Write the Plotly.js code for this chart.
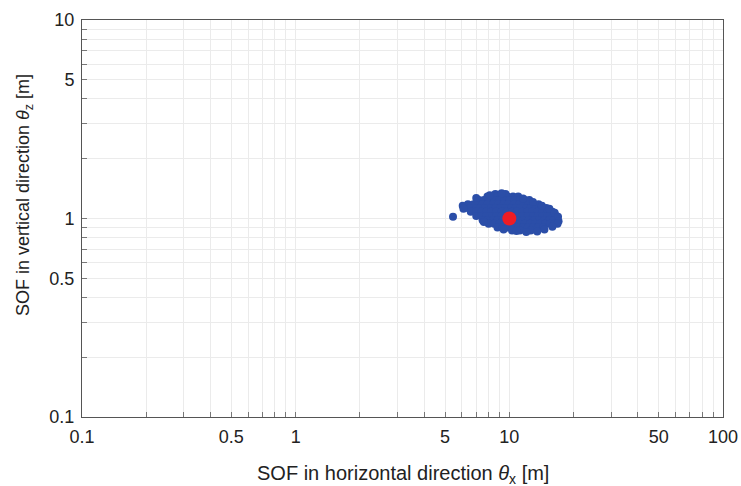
<!DOCTYPE html>
<html>
<head>
<meta charset="utf-8">
<script src="https://cdn.plot.ly/plotly-3.0.1.min.js"></script>
<style>html,body{margin:0;padding:0;background:#fff;}#chart{width:741px;height:486px;}</style>
</head>
<body>
<div id="chart"></div>
<script>
// Sample cloud, read row by row (vertical SOF value and horizontal SOF values in that row)
var rowY = [1.33, 1.29, 1.24, 1.18, 1.13, 1.08, 1.03, 0.98, 0.94, 0.90, 0.87];
var rowX = [
  [8.6, 9.6],
  [7.9, 8.3, 8.8, 9.3, 9.8, 10.4, 11.0],
  [7.2, 7.6, 8.0, 8.5, 9.0, 9.5, 10.0, 10.6, 11.2, 11.8, 12.4],
  [6.4, 6.8, 7.1, 7.5, 7.9, 8.4, 8.9, 9.4, 9.9, 10.5, 11.1, 11.7, 12.3, 13.0, 13.7],
  [6.2, 6.6, 7.0, 7.3, 7.7, 8.2, 8.6, 9.1, 9.6, 10.2, 10.7, 11.3, 12.0, 12.6, 13.3, 14.1, 14.9],
  [6.6, 7.0, 7.4, 7.8, 8.2, 8.7, 9.2, 9.7, 10.3, 10.8, 11.5, 12.1, 12.8, 13.5, 14.3, 15.1, 15.9],
  [7.0, 7.4, 7.8, 8.3, 8.7, 9.2, 9.8, 10.3, 10.9, 11.5, 12.2, 12.9, 13.6, 14.3, 15.1, 16.0, 16.6],
  [7.5, 7.9, 8.4, 8.8, 9.3, 9.9, 10.4, 11.0, 11.6, 12.3, 13.0, 13.7, 14.5, 15.3, 16.1, 16.7],
  [8.0, 8.5, 9.0, 9.5, 10.0, 10.6, 11.2, 11.8, 12.5, 13.2, 13.9, 14.7, 15.5, 16.2],
  [8.8, 9.3, 9.8, 10.4, 11.0, 11.6, 12.2, 12.9, 13.6, 14.4],
  [10.3, 11.2, 12.6]
];
// Scattered edge samples (horizontal, vertical)
var edgeX = [5.45, 6.05, 6.1, 7.0, 8.1, 9.2, 11.6, 12.9, 14.2, 15.4, 16.3, 16.9, 17.0, 16.8, 15.9, 14.6, 13.5, 12.0, 10.8, 9.4, 7.6];
var edgeY = [1.02, 1.16, 1.12, 1.27, 1.31, 1.34, 1.26, 1.21, 1.16, 1.12, 1.07, 1.02, 0.97, 0.94, 0.91, 0.88, 0.86, 0.855, 0.865, 0.88, 0.96];
var meanX = [10];
var meanY = [1];

var tickValsX = [0.1,0.2,0.3,0.4,0.5,0.6,0.7,0.8,0.9,1,2,3,4,5,6,7,8,9,10,20,30,40,50,60,70,80,90,100];
var tickTextX = ['0.1','','','','0.5','','','','','1','','','','5','','','','','10','','','','50','','','','','100'];
var tickValsY = [0.1,0.2,0.3,0.4,0.5,0.6,0.7,0.8,0.9,1,2,3,4,5,6,7,8,9,10];
var tickTextY = ['0.1','','','','0.5','','','','','1','','','','5','','','','','10'];
var xTitle = 'SOF in horizontal direction <i>θ</i><sub>x</sub> [m]';
var yTitle = 'SOF in vertical direction <i>θ</i><sub>z</sub> [m]';

var cloudX = [], cloudY = [];
rowY.forEach(function(y, i){ rowX[i].forEach(function(x){ cloudX.push(x); cloudY.push(y); }); });
edgeX.forEach(function(x, i){ cloudX.push(x); cloudY.push(edgeY[i]); });

var traces = [
  {x: cloudX, y: cloudY, type: 'scatter', mode: 'markers',
   marker: {color: '#2b4ea8', size: 8, line: {width: 0}}, hoverinfo: 'skip'},
  {x: meanX, y: meanY, type: 'scatter', mode: 'markers',
   marker: {color: '#ee1c25', size: 14, line: {width: 0}}, hoverinfo: 'skip'}
];

var FONT = 'Liberation Sans, Arial, sans-serif';
var axisCommon = {
  type: 'log', showline: true, linecolor: '#555', linewidth: 1, mirror: true,
  ticks: 'inside', ticklen: 5, tickcolor: '#777', tickwidth: 1,
  showgrid: true, gridcolor: '#ebebeb', gridwidth: 1, zeroline: false,
  ticklabelstandoff: 3,
  tickfont: {family: FONT, size: 18, color: '#222'}
};

var layout = {
  width: 741, height: 486,
  margin: {l: 82, r: 18, t: 20, b: 69},
  paper_bgcolor: '#fff', plot_bgcolor: '#fff',
  showlegend: false,
  xaxis: Object.assign({}, axisCommon, {
    range: [-1, 2], tickmode: 'array', tickvals: tickValsX, ticktext: tickTextX
  }),
  yaxis: Object.assign({}, axisCommon, {
    range: [-1, 1], tickmode: 'array', tickvals: tickValsY, ticktext: tickTextY
  }),
  annotations: [
    {text: xTitle, xref: 'paper', yref: 'paper', x: 0.5, y: -0.146,
     xanchor: 'center', yanchor: 'middle', showarrow: false,
     font: {family: FONT, size: 20, color: '#222'}},
    {text: yTitle, xref: 'paper', yref: 'paper', x: -0.0905, y: 0.559,
     xanchor: 'center', yanchor: 'middle', showarrow: false, textangle: -90,
     font: {family: FONT, size: 18, color: '#222'}}
  ]
};

Plotly.newPlot('chart', traces, layout, {staticPlot: true, displayModeBar: false});
</script>
</body>
</html>
